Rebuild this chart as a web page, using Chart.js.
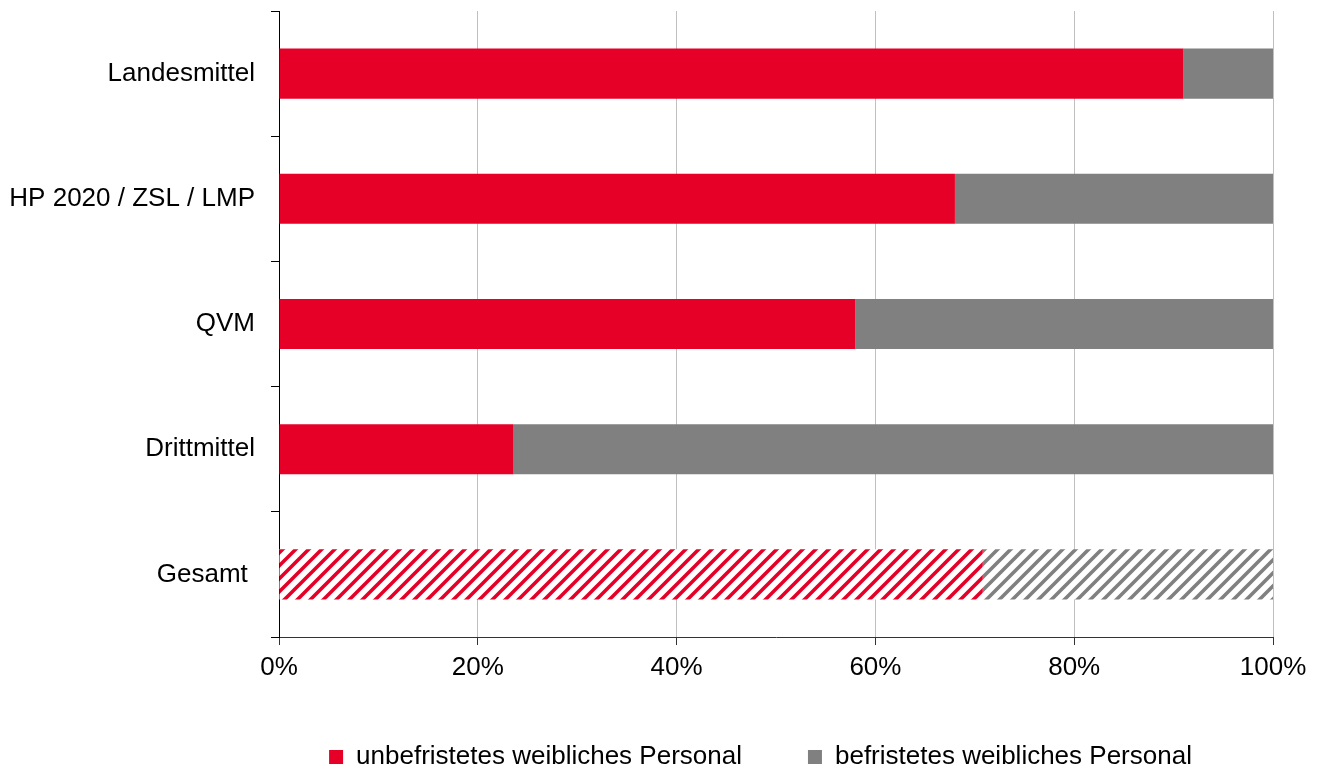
<!DOCTYPE html>
<html>
<head>
<meta charset="utf-8">
<script src="https://cdn.jsdelivr.net/npm/chart.js@4.4.0/dist/chart.umd.min.js"></script>
<style>
html,body{margin:0;padding:0;background:#fff;}
#wrap{width:1325px;height:769px;}
</style>
</head>
<body>
<div id="wrap"><canvas id="c" width="1325" height="769"></canvas></div>
<script>
const categories = ["Landesmittel", "HP 2020 / ZSL / LMP", "QVM", "Drittmittel", "Gesamt "];
const unbefristet = [91, 68, 58, 23.6, 70.8];
const befristet = [9, 32, 42, 76.4, 29.2];
const tickLabels = ["0%", "20%", "40%", "60%", "80%", "100%"];
const seriesNames = ["unbefristetes weibliches Personal", "befristetes weibliches Personal"];
const RED = "#e60028";
const GREY = "#808080";

function hatch(color) {
  const s = 13;
  const c = document.createElement("canvas");
  c.width = s; c.height = s;
  const g = c.getContext("2d");
  g.fillStyle = "#fff";
  g.fillRect(0, 0, s, s);
  g.strokeStyle = color;
  g.lineWidth = 3.6;
  g.beginPath();
  g.moveTo(-s, s); g.lineTo(s, -s);
  g.moveTo(0, s); g.lineTo(s, 0);
  g.moveTo(0, s * 2); g.lineTo(s * 2, 0);
  g.stroke();
  return g.createPattern(c, "repeat");
}
const redPat = hatch(RED);
const greyPat = hatch(GREY);

const FONT = {family: "'Liberation Sans', Arial, sans-serif", size: 26};

const legendShift = {
  id: "legendShift",
  afterLayout(chart) {
    const l = chart.legend;
    if (l) { l.left += 124; l.right += 124; }
  }
};

new Chart(document.getElementById("c"), {
  type: "bar",
  data: {
    labels: categories,
    datasets: [
      {
        label: seriesNames[0],
        data: unbefristet,
        backgroundColor: (ctx) => (ctx.type === "data" && ctx.dataIndex === categories.length - 1) ? redPat : RED,
        borderWidth: 0,
        categoryPercentage: 1,
        barPercentage: 0.4
      },
      {
        label: seriesNames[1],
        data: befristet,
        backgroundColor: (ctx) => (ctx.type === "data" && ctx.dataIndex === categories.length - 1) ? greyPat : GREY,
        borderWidth: 0,
        categoryPercentage: 1,
        barPercentage: 0.4
      }
    ]
  },
  plugins: [legendShift],
  options: {
    indexAxis: "y",
    responsive: false,
    animation: false,
    layout: {padding: {top: 11, right: 52, left: 0, bottom: -11}},
    plugins: {
      tooltip: {enabled: false},
      legend: {
        position: "bottom",
        fullSize: true,
        labels: {
          font: FONT,
          color: "#000",
          boxWidth: 14,
          boxHeight: 14,
          padding: 66
        }
      }
    },
    scales: {
      x: {
        stacked: true,
        min: 0,
        max: 100,
        afterFit: (s) => { s.height = 41; s.paddingLeft = 0; s.paddingRight = 0; },
        afterBuildTicks: (s) => { s.ticks = tickLabels.map((t, i) => ({value: i * 20})); },
        ticks: {
          font: FONT,
          color: "#000",
          padding: 7,
          maxRotation: 0,
          callback: (v, i) => tickLabels[i]
        },
        grid: {
          color: (ctx) => ctx.index === 0 ? "#000" : "#c0c0c0",
          lineWidth: 1,
          tickColor: "#333",
          tickLength: 8
        },
        border: {color: "#333", width: 1}
      },
      y: {
        stacked: true,
        afterFit: (s) => { s.width = 279; s.paddingTop = 0; s.paddingBottom = 0; },
        ticks: {
          font: FONT,
          color: "#000",
          padding: 16
        },
        grid: {
          offset: true,
          drawOnChartArea: false,
          drawTicks: true,
          tickLength: 8,
          tickColor: "#000"
        },
        border: {color: "#000", width: 1}
      }
    }
  }
});
</script>
</body>
</html>
